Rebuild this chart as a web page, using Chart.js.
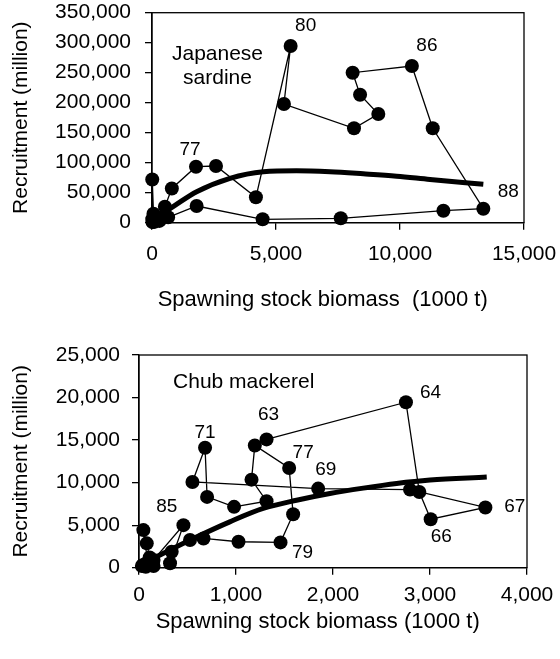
<!DOCTYPE html>
<html lang="en">
<head>
<meta charset="UTF-8">
<title>Spawning stock and recruitment</title>
<style>
  body { margin: 0; background: #fff; }
  .wrap { position: relative; width: 560px; height: 659px; }
  canvas { position: absolute; left: 0; }
  #sardine { top: 0; }
  #mackerel { top: 330px; }
</style>
</head>
<body>
<div class="wrap">
  <canvas id="sardine" width="560" height="320"></canvas>
  <canvas id="mackerel" width="560" height="329"></canvas>
</div>
<script src="https://cdn.jsdelivr.net/npm/chart.js@4"></script>
<script>
// Japanese sardine: SSB (1000 t) and recruitment (million) by year
const sardineYears = [1965, 1966, 1967, 1968, 1969, 1970, 1971, 1972, 1973, 1974, 1975, 1976, 1977, 1978, 1979, 1980,
  1981, 1982, 1983, 1984, 1985, 1986, 1987, 1988, 1989, 1990, 1991, 1992, 1993, 1994, 1995];
const sardineSSB = [80, 30, 50, 20, 40, 20, 60, 10, 20, 200, 520, 800, 1774, 2580, 4190, 5590,
  5320, 8145, 9125, 8390, 8090, 10480, 11320, 13360, 11750, 7610, 4460, 1800, 650, 300, 100];
const sardineRec = [3000, 1500, 2500, 1000, 4000, 6000, 15000, 72000, 6000, 8000, 26700, 57000, 93300, 94500, 42300, 294500,
  197800, 157300, 181200, 213300, 250000, 261200, 157300, 23300, 20000, 7300, 5700, 27800, 9000, 3000, 1500];
// fitted stock-recruitment curve
const sardineFitSSB = [100, 456, 1000, 1800, 3145, 4490, 5830, 7180, 8520, 9865, 11210, 13360];
const sardineFitRec = [3000, 15700, 31000, 51700, 74000, 85000, 86700, 85000, 81500, 77500, 72000, 64000];
const sardineXTicks = [0, 5000, 10000, 15000];
const sardineYTicks = [0, 50000, 100000, 150000, 200000, 250000, 300000, 350000];

// Chub mackerel
const mackerelYears = [1963, 1964, 1965, 1966, 1967, 1968, 1969, 1970, 1971, 1972, 1973, 1974, 1975, 1976, 1977, 1978,
  1979, 1980, 1981, 1982, 1983, 1984, 1985, 1986, 1987, 1988, 1989, 1990, 1991, 1992, 1993, 1994, 1995];
const mackerelSSB = [1315, 2752, 2890, 3007, 3571, 2794, 1847, 551, 681, 702, 980, 1315, 1160, 1194, 1548, 1589,
  1459, 1026, 665, 526, 337, 320, 458, 150, 60, 30, 90, 45, 80, 110, 40, 150, 70];
const mackerelRec = [15080, 19450, 8900, 5700, 7080, 9180, 9300, 10080, 14100, 8320, 7150, 7810, 10350, 14370, 11720, 6290,
  2975, 3050, 3440, 3250, 1870, 515, 5000, 900, 400, 200, 600, 4420, 2860, 1200, 300, 200, 100];
const mackerelFitSSB = [60, 592, 936, 1280, 1624, 1968, 2312, 2656, 3000, 3585];
const mackerelFitRec = [600, 3600, 5390, 6960, 7930, 8720, 9350, 9900, 10300, 10650];
const mackerelXTicks = [0, 1000, 2000, 3000, 4000];
const mackerelYTicks = [0, 5000, 10000, 15000, 20000, 25000];

Chart.defaults.font.family = '"Liberation Sans", Arial, sans-serif';
Chart.defaults.color = '#000';

// box around plot + text notes (species name, year labels)
const framePlugin = {
  id: 'frame',
  afterDraw(chart, args, opts) {
    const {ctx, chartArea: a, scales} = chart;
    ctx.save();
    ctx.strokeStyle = '#000';
    ctx.lineWidth = 1.3;
    ctx.strokeRect(a.left, a.top, a.right - a.left, a.bottom - a.top);
    ctx.fillStyle = '#000';
    ctx.textAlign = 'center';
    ctx.textBaseline = 'middle';
    ctx.font = '21px "Liberation Sans", Arial, sans-serif';
    opts.names.forEach(n => ctx.fillText(n.text, a.left + n.dx, a.top + n.dy));
    ctx.font = '19px "Liberation Sans", Arial, sans-serif';
    const pts = chart.data.datasets[0].data;
    opts.years.forEach(l => {
      const i = opts.yearList.indexOf(l.year);
      const p = pts[i];
      const px = scales.x.getPixelForValue(p.x);
      const py = scales.y.getPixelForValue(p.y);
      ctx.fillText(String(l.year).slice(2), px + l.dx, py + l.dy);
    });
    ctx.restore();
  }
};

function makeChart(id, d) {
  const points = d.ssb.map((x, i) => ({x: x, y: d.rec[i]}));
  const fit = d.fitSSB.map((x, i) => ({x: x, y: d.fitRec[i]}));
  const fmt = v => v.toLocaleString('en-US');
  return new Chart(document.getElementById(id), {
    type: 'scatter',
    data: {
      datasets: [
        { data: points, showLine: true, borderColor: '#000', borderWidth: 1.3,
          pointRadius: 7, pointBackgroundColor: '#000', pointBorderWidth: 0, clip: false, order: 1 },
        { data: fit, showLine: true, borderColor: '#000', borderWidth: 5,
          pointRadius: 0, cubicInterpolationMode: 'monotone', clip: false, order: 0 }
      ]
    },
    options: {
      responsive: false,
      animation: false,
      layout: { padding: { top: d.box.top, right: d.box.right, left: 0, bottom: 0 } },
      plugins: {
        legend: { display: false },
        tooltip: { enabled: false },
        frame: { names: d.names, years: d.labels, yearList: d.years }
      },
      scales: {
        x: {
          type: 'linear',
          min: d.xTicks[0], max: d.xTicks[d.xTicks.length - 1],
          afterBuildTicks: s => { s.ticks = d.xTicks.map(v => ({value: v})); },
          afterFit: s => { s.height = d.box.xHeight; s.paddingLeft = 0; s.paddingRight = 0; },
          grid: { drawOnChartArea: false, tickLength: 7, color: '#000', lineWidth: 1.3 },
          border: { color: '#000', width: 1.3 },
          ticks: { callback: fmt, padding: d.box.xPad, maxRotation: 0, autoSkip: false, font: { size: 21 } },
          title: { display: true, text: d.xTitle, font: { size: 22 }, padding: { top: 0, bottom: d.box.xTitlePad } }
        },
        y: {
          type: 'linear',
          min: d.yTicks[0], max: d.yTicks[d.yTicks.length - 1],
          afterBuildTicks: s => { s.ticks = d.yTicks.map(v => ({value: v})); },
          afterFit: s => { s.width = d.box.left; s.paddingTop = 0; s.paddingBottom = 0; },
          grid: { drawOnChartArea: false, tickLength: 7, color: '#000', lineWidth: 1.3 },
          border: { color: '#000', width: 1.3 },
          ticks: { callback: fmt, padding: d.box.yPad, autoSkip: false, font: { size: 21 } },
          title: { display: true, text: 'Recruitment (million)', font: { size: 21 }, padding: { top: d.box.yTitlePad, bottom: 0 } }
        }
      }
    },
    plugins: [framePlugin]
  });
}

makeChart('sardine', {
  years: sardineYears, ssb: sardineSSB, rec: sardineRec,
  fitSSB: sardineFitSSB, fitRec: sardineFitRec,
  xTicks: sardineXTicks, yTicks: sardineYTicks,
  xTitle: 'Spawning stock biomass  (1000 t)\u00a0\u00a0\u00a0\u00a0\u00a0',
  box: { left: 152, top: 12.7, right: 36, xHeight: 97.3, xPad: 12, yPad: 14, xTitlePad: 7, yTitlePad: 9 },
  names: [ { text: 'Japanese', dx: 65.5, dy: 41.3 }, { text: 'sardine', dx: 65.5, dy: 65.3 } ],
  labels: [
    { year: 1977, dx: -6, dy: -17 },
    { year: 1980, dx: 15, dy: -20 },
    { year: 1986, dx: 15, dy: -20.5 },
    { year: 1988, dx: 25, dy: -17 }
  ]
});

makeChart('mackerel', {
  years: mackerelYears, ssb: mackerelSSB, rec: mackerelRec,
  fitSSB: mackerelFitSSB, fitRec: mackerelFitRec,
  xTicks: mackerelXTicks, yTicks: mackerelYTicks,
  xTitle: 'Spawning stock biomass (1000 t)\u00a0\u00a0\u00a0\u00a0\u00a0',
  box: { left: 139, top: 25, right: 33, xHeight: 91.3, xPad: 8, yPad: 12, xTitlePad: 24, yTitlePad: 9 },
  names: [ { text: 'Chub mackerel', dx: 104.7, dy: 27 } ],
  labels: [
    { year: 1963, dx: 2, dy: -25 },
    { year: 1964, dx: 24.5, dy: -9 },
    { year: 1966, dx: 10.6, dy: 17.7 },
    { year: 1967, dx: 29.4, dy: -0.6 },
    { year: 1969, dx: 7.7, dy: -18.6 },
    { year: 1971, dx: 0, dy: -15.3 },
    { year: 1977, dx: 14, dy: -15.7 },
    { year: 1979, dx: 22, dy: 10 },
    { year: 1985, dx: -16.7, dy: -18.7 }
  ]
});
</script>
</body>
</html>
